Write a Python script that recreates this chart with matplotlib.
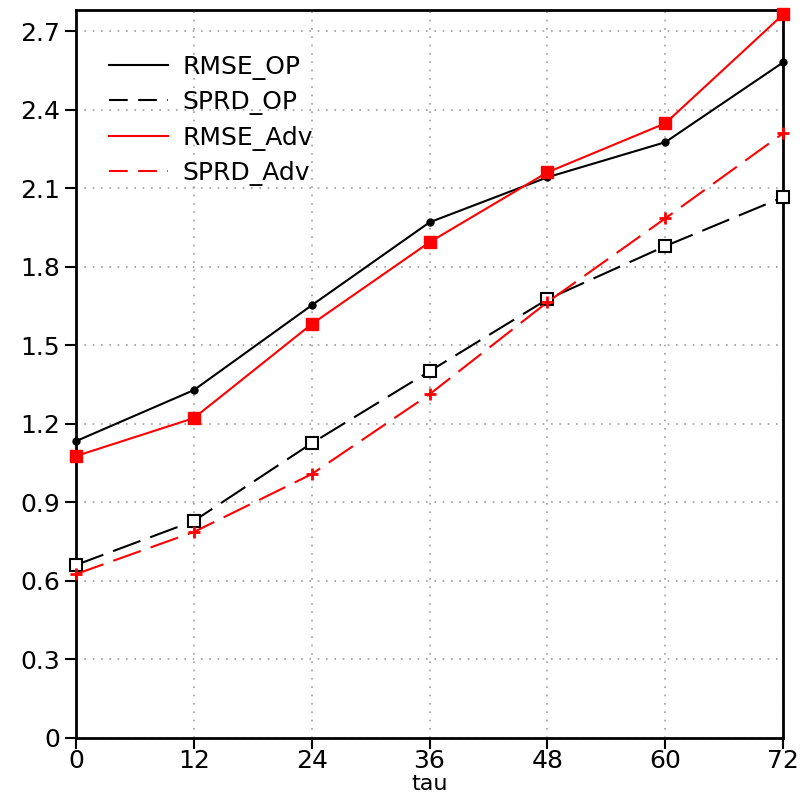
import matplotlib
matplotlib.use("Agg")
import matplotlib.pyplot as plt
from matplotlib.lines import Line2D

# lead time (h) and error/spread values
tau = [0, 12, 24, 36, 48, 60, 72]
rmse_op = [1.134, 1.329, 1.653, 1.970, 2.142, 2.276, 2.581]
sprd_op = [0.661, 0.829, 1.126, 1.401, 1.676, 1.879, 2.066]
rmse_adv = [1.077, 1.222, 1.581, 1.894, 2.161, 2.348, 2.764]
sprd_adv = [0.626, 0.787, 1.008, 1.313, 1.665, 1.985, 2.310]

yticks = [0, 0.3, 0.6, 0.9, 1.2, 1.5, 1.8, 2.1, 2.4, 2.7]
ytick_labels = ["0", "0.3", "0.6", "0.9", "1.2", "1.5", "1.8", "2.1", "2.4", "2.7"]

plt.rcParams['font.family'] = ['DejaVu Sans']

fig = plt.figure(figsize=(8.04, 7.92), dpi=100)
ax = fig.add_axes([0.0945, 0.0682, 0.8795, 0.9188])

dash = (0, (14, 5))
ax.plot(tau, rmse_op, color='black', lw=1.5, marker='o', ms=5, clip_on=False, zorder=4)
ax.plot(tau, sprd_op, color='black', lw=1.5, ls=dash, marker='s', ms=8,
        mfc='white', mec='black', mew=1.5, clip_on=False, zorder=4)
ax.plot(tau, rmse_adv, color='red', lw=1.5, marker='s', ms=8, clip_on=False, zorder=4)
ax.plot(tau, sprd_adv, color='red', lw=1.5, ls=dash, marker='+', ms=8, mew=2,
        clip_on=False, zorder=4)

ax.set_xlim(0, 72)
ax.set_ylim(0, 2.78)
ax.set_xticks(tau)
ax.set_xticklabels([str(t) for t in tau])
ax.set_yticks(yticks)
ax.set_yticklabels(ytick_labels)
ax.tick_params(axis='both', direction='out', length=8, width=1.5, labelsize=18,
               top=False, right=False)
ax.tick_params(axis='x', pad=0)
ax.grid(True, color='#a0a0a0', ls=(0, (1, 4)), lw=1.2)
for s in ax.spines.values():
    s.set_linewidth(2)
ax.set_xlabel("tau", fontsize=16)
ax.xaxis.set_label_coords(0.5, -0.049)

handles = [
    Line2D([], [], color='black', lw=1.5),
    Line2D([], [], color='black', lw=1.5, ls=(0, (9, 5))),
    Line2D([], [], color='red', lw=1.5),
    Line2D([], [], color='red', lw=1.5, ls=(0, (9, 5))),
]
labels = ["RMSE_OP", "SPRD_OP", "RMSE_Adv", "SPRD_Adv"]
leg = ax.legend(handles, labels, loc='upper left', bbox_to_anchor=(0.015, 0.97),
                frameon=False, fontsize=18, handlelength=2.35, handletextpad=0.6,
                labelspacing=0.42)

fig.savefig("out.png", dpi=100)
